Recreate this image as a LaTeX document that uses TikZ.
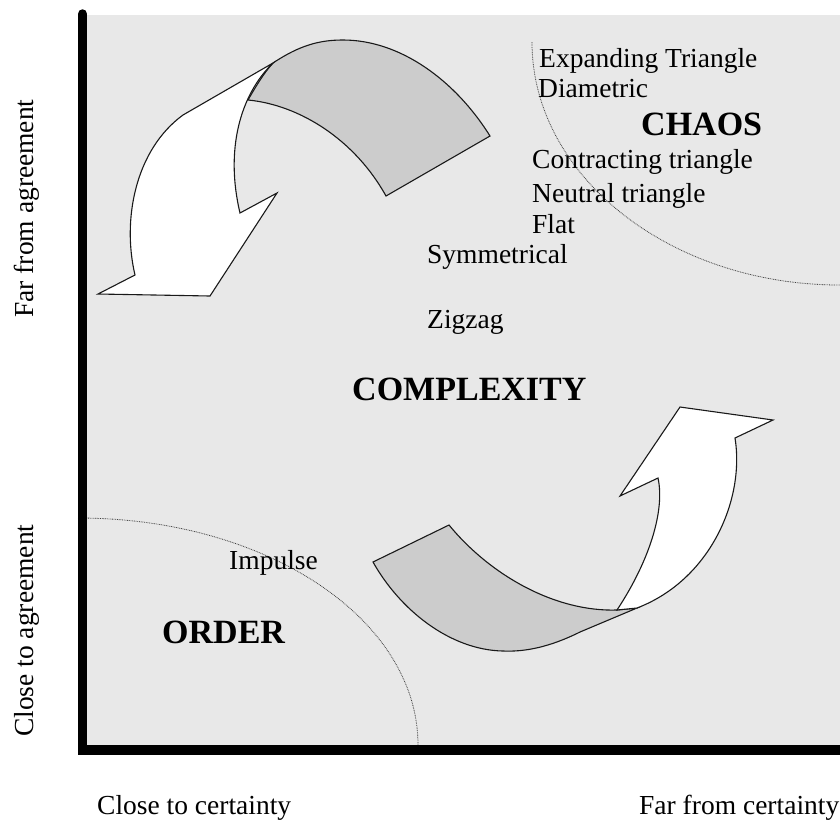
\documentclass[tikz,border=0pt]{standalone}
\usepackage{fontspec}
\setmainfont{Liberation Serif}
\definecolor{bg}{HTML}{E8E8E8}
\definecolor{band}{HTML}{CCCCCC}
\begin{document}
\begin{tikzpicture}[x=1pt,y=-1pt,
  lbl/.style={font=\fontsize{27.5}{30}\selectfont, anchor=base west, inner sep=0pt},
  big/.style={font=\fontsize{34}{36}\selectfont\bfseries, anchor=base west, inner sep=0pt},
  boundary/.style={draw=black!75, line width=0.8pt, dash pattern=on 0.8pt off 0.9pt},
  ribbon/.style={draw=black!90, line width=1.1pt, line join=miter},
  axis/.style={line width=9.5pt}]
\useasboundingbox (0,0) rectangle (840,820);
% background
\fill[bg] (82,15) rectangle (840,750);
% region boundaries
\draw[boundary] (78,518) .. controls (267.5,518) and (418,619.7) .. (418,745);
\draw[boundary] (532,42) .. controls (532,176) and (670,285) .. (840,285);
% top-left arrow: gray band
\draw[ribbon, fill=band] (273,63) .. controls (300,45) and (320,40) .. (343,40)
  .. controls (400,40) and (455,80) .. (490,136) -- (386,196)
  .. controls (355,140) and (300,105) .. (248,100)
  .. controls (255,88) and (263,74) .. (273,63) -- cycle;
% top-left arrow: white head
\draw[ribbon, fill=white] (273,63) .. controls (240,95) and (225,150) .. (240,213)
  -- (277,193) -- (210,296) -- (98,294) -- (135,275)
  .. controls (122,220) and (135,150) .. (183,115) -- cycle;
% bottom-right arrow: gray band
\draw[ribbon, fill=band] (373,562) -- (449,525)
  .. controls (490,575) and (555,612) .. (617,610) -- (637,608)
  -- (580,632) .. controls (550,647) and (525,652) .. (503,651)
  .. controls (450,650) and (400,610) .. (373,562) -- cycle;
% bottom-right arrow: white head
\draw[ribbon, fill=white] (617,610) .. controls (650,560) and (665,510) .. (658,478)
  -- (620,496) -- (680,407) -- (773,420) -- (735,438)
  .. controls (745,500) and (710,580) .. (637,608) -- cycle;
% axes
\draw[axis, line cap=round] (82.5,14) -- (82.5,745);
\draw[axis] (78,750) -- (840,750);
% texts
\node[lbl] (exp) at (539,67) {Expanding Triangle};
\node[lbl] (dia) at (538,97) {Diametric};
\node[big] (chaos) at (641,135) {CHAOS};
\node[lbl] (con) at (532,168) {Contracting triangle};
\node[lbl] (neu) at (532,202) {Neutral triangle};
\node[lbl] (flat) at (532,233) {Flat};
\node[lbl] (sym) at (427,263) {Symmetrical};
\node[lbl] (zig) at (427,328) {Zigzag};
\node[big] (cplx) at (352,400) {COMPLEXITY};
\node[lbl] (imp) at (229,569) {Impulse};
\node[big] (order) at (162,643) {ORDER};
\node[lbl] (cc) at (97,814) {Close to certainty};
\node[lbl] (fc) at (639,814) {Far from certainty};
\node[lbl, rotate=90] (fa) at (33,318) {Far from agreement};
\node[lbl, rotate=90] (ca) at (33,737) {Close to agreement};
\end{tikzpicture}
\end{document}
